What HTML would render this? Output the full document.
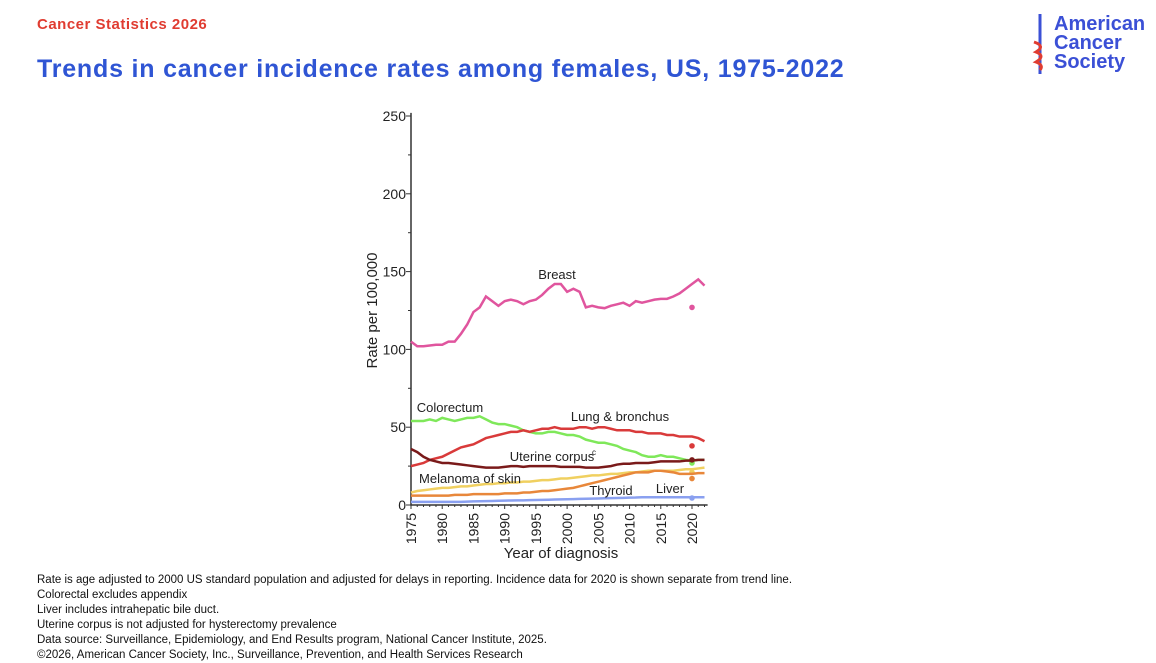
<!DOCTYPE html>
<html><head><meta charset="utf-8"><style>
body{margin:0;width:1156px;height:661px;background:#fff;font-family:"Liberation Sans",sans-serif;overflow:hidden;position:relative}
.a{position:absolute;white-space:nowrap}
</style></head><body>
<div class="a" style="left:37px;top:16px;color:#e03c31;font-weight:bold;font-size:15px;letter-spacing:0.5px">Cancer Statistics 2026</div>
<div class="a" style="left:37px;top:55px;color:#2f55d4;font-weight:bold;font-size:25px;letter-spacing:0.8px">Trends in cancer incidence rates among females, US, 1975-2022</div>
<div class="a" style="left:1030px;top:12px;width:124px;height:64px">
<svg width="20" height="64" style="position:absolute;left:0;top:0"><line x1="10" y1="2" x2="10" y2="62" stroke="#3b50d6" stroke-width="3"/><path d="M4 30 Q16 34 6 40 Q16 44 6 50 Q14 53 10 58" stroke="#e03c31" stroke-width="3" fill="none"/></svg>
<div class="a" style="left:24px;top:3px;color:#3b50d6;font-weight:bold;font-size:20px;line-height:19px">American<br>Cancer<br>Society</div>
</div>
<svg id="chart" class="a" style="left:0;top:0" width="1156" height="580"></svg>
<div class="a" style="left:37px;top:573px;font-size:11.5px;line-height:15px;color:#111">
Rate is age adjusted to 2000 US standard population and adjusted for delays in reporting. Incidence data for 2020 is shown separate from trend line.<br>Colorectal excludes appendix<br>Liver includes intrahepatic bile duct.<br>Uterine corpus is not adjusted for hysterectomy prevalence<br>Data source: Surveillance, Epidemiology, and End Results program, National Cancer Institute, 2025.<br>©2026, American Cancer Society, Inc., Surveillance, Prevention, and Health Services Research</div>
<script>
const years=[];for(let y=1975;y<=2022;y++)years.push(y);
const breast=[105,102,102,102.5,103,103,105,105,110,116,124,127,134,131,128,131,132,131,129,131,132,135,139,142,142,137,139,137,127,128,127,126.5,128,129,130,128,131,130,131,132,132.5,132.5,134,136,139,142,145,141];
const colorectum=[54,54,54,55,54,56,55,54,55,56,56,57,55,53,52,52,51,50,48,47,46,46,47,47,46,45,45,44,42,41,40,40,39,38,36,35,34,32,31,31,32,31,31,30,29,28.5,29,29];
const lung=[25,26,27,29,30,31,33,35,37,38,39,41,43,44,45,46,47,47,48,47,48,49,49,50,49,49,49,50,50,49,50,50,49,48,48,48,47,47,46,46,46,45,45,44,44,44,43,41];
const uterine=[36,34,31,29,28,27,27,26.5,26,25.5,25,24.5,24,24,24,24.5,25,25,24.5,25,25,25,25,25,24.5,24.5,24.5,24.5,24,24,24,24.5,25,26,26.5,26.5,27,27,27,27.5,28,28,28,28,28.5,28.5,29,29];
const melanoma=[8,9,9.5,10,10.5,11,11,11.5,12,12,12.5,13,13.5,13.5,14,14,14.5,14.5,15,15,15.5,16,16,16.5,17,17,17.5,18,18.5,19,19,19.5,20,20,20.5,21,21,21.5,22,22,22,22,22,22.5,23,23,23.5,24];
const thyroid=[6,6,6,6,6,6,6,6.5,6.5,6.5,7,7,7,7,7,7.5,7.5,7.5,8,8,8.5,9,9,9.5,10,10.5,11,12,13,14,15,16,17,18,19,20,21,21,21,22,22,21.5,21,20,20,20,20.5,20.5];
const liver=[2,2,2,2,2,2,2,2,2,2.2,2.3,2.4,2.5,2.6,2.7,2.8,2.9,3,3,3.1,3.2,3.3,3.4,3.5,3.6,3.7,3.8,3.9,4,4.1,4.2,4.3,4.4,4.5,4.6,4.7,4.8,5,5,5,5,5,5,5,5,5,5,5];
const dots2020=[127,27,38,29,21,17,4.5];
const yTicks=[0,50,100,150,200,250];
const xTicks=[1975,1980,1985,1990,1995,2000,2005,2010,2015,2020];
const NS="http://www.w3.org/2000/svg",svg=document.getElementById('chart');
const X=y=>411+(y-1975)*(692-411)/45, Y=v=>505-v*(505-116)/250;
function mk(t,a){const e=document.createElementNS(NS,t);for(const k in a)e.setAttribute(k,a[k]);svg.appendChild(e);return e;}
let ax=mk('path',{d:`M${X(1975)} ${Y(252)}V${Y(0)}H${X(2022.5)}`,stroke:'#333',fill:'none','stroke-width':1.5});

for(let v=0;v<=250;v+=25){mk('line',{x1:X(1975)-(v%50?3:5),x2:X(1975),y1:Y(v),y2:Y(v),stroke:'#333'});}
yTicks.forEach(v=>{const t=mk('text',{x:X(1975)-5,y:Y(v)+5,'text-anchor':'end','font-size':14,fill:'#222'});t.textContent=v;
});
for(let y=1975;y<=2022;y++){mk('line',{x1:X(y),x2:X(y),y1:Y(0),y2:Y(0)+(y%5?2:4),stroke:'#333'});}
xTicks.forEach(y=>{const t=mk('text',{transform:`translate(${X(y)+5},${Y(0)+8}) rotate(-90)`,'text-anchor':'end','font-size':14,fill:'#222'});t.textContent=y;
});
let yl=mk('text',{transform:`translate(377,${Y(125)}) rotate(-90)`,'text-anchor':'middle','font-size':15,fill:'#222'});yl.textContent='Rate per 100,000';

let xl=mk('text',{x:561,y:558,'text-anchor':'middle','font-size':15,fill:'#222'});xl.textContent='Year of diagnosis';

const series=[[breast,'#e0559e','breast'],[colorectum,'#7fe85a','colorectum'],[lung,'#d93a3a','lung'],[uterine,'#7a1a1a','uterine'],[melanoma,'#f0d060','melanoma'],[thyroid,'#e8873a','thyroid'],[liver,'#8aa0f0','liver']];
series.forEach(([d,c,n],i)=>{const p=mk('polyline',{points:d.map((v,j)=>X(years[j])+','+Y(v)).join(' '),fill:'none',stroke:c,'stroke-width':2.5});

const dt=mk('circle',{cx:X(2020),cy:Y(dots2020[i]),r:2.8,fill:c});
});
const labels=[['Breast',557,279],['Colorectum',450,412],['Lung & bronchus',620,421],['Uterine corpus',552,461],['Melanoma of skin',470,483],['Thyroid',611,495],['Liver',670,493]];
labels.forEach(([s,x,y])=>{const t=mk('text',{x,y,'text-anchor':'middle','font-size':13,fill:'#222'});t.textContent=s;
});
const sup=mk('text',{x:592,y:455,'font-size':8,fill:'#222'});sup.textContent='c';
</script>
</body></html>
